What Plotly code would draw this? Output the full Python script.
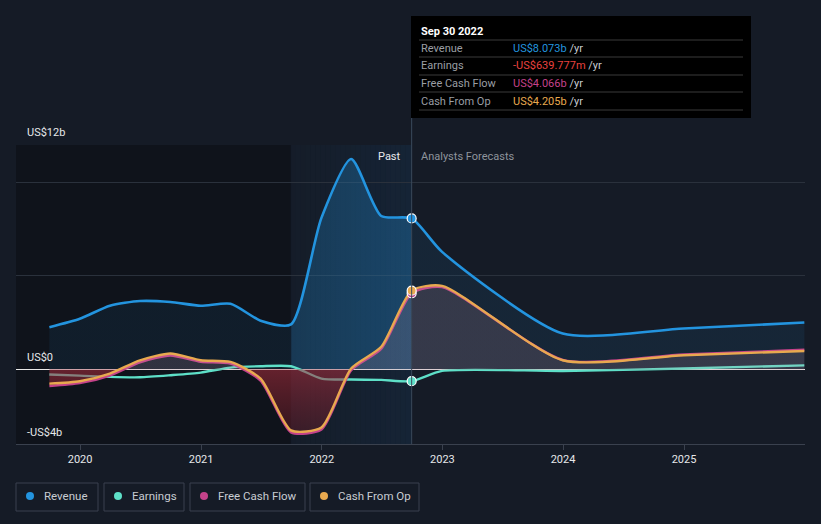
import plotly.graph_objects as go
from datetime import date

# ---- data ----
past_dates = ["2019-09-30", "2019-12-31", "2020-03-31", "2020-06-30", "2020-09-30",
              "2020-12-31", "2021-03-31", "2021-06-30", "2021-09-30", "2021-12-31",
              "2022-03-31", "2022-06-30", "2022-09-30"]
fc_dates = ["2022-09-30", "2022-12-31", "2023-12-31", "2024-12-31", "2025-12-31"]

rev_past = [2.25, 2.7, 3.4, 3.65, 3.6, 3.4, 3.5, 2.6, 2.4, 8.1, 11.25, 8.2, 8.073]
rev_fc = [8.073, 6.28, 1.91, 2.18, 2.5]

earn_past = [-0.28, -0.34, -0.41, -0.43, -0.32, -0.18, 0.09, 0.16, 0.16, -0.5, -0.55, -0.57, -0.64]
earn_fc = [-0.64, -0.09, -0.09, 0.04, 0.21]

fcf_past = [-0.89, -0.74, -0.33, 0.38, 0.74, 0.40, 0.31, -0.6, -3.37, -3.22, -0.05, 1.1, 4.066]
fcf_fc = [4.066, 4.40, 0.50, 0.78, 1.04]

cfo_past = [-0.77, -0.64, -0.23, 0.48, 0.84, 0.48, 0.39, -0.5, -3.27, -3.12, 0.04, 1.2, 4.205]
cfo_fc = [4.205, 4.46, 0.48, 0.75, 0.98]

band_start, band_end = "2021-09-30", "2022-09-30"

y_ticks = [0, 5, 10, 12]
x_ticks = ["2020-01-01", "2021-01-01", "2022-01-01", "2023-01-01", "2024-01-01", "2025-01-01"]
x_tick_text = ["2020", "2021", "2022", "2023", "2024", "2025"]

BG = "#151b26"
C_REV = "#2394df"
C_EARN = "#5ee0c8"
C_FCF = "#c4428a"
C_CFO = "#e8a94f"

W, H = 821, 524
L, R, T, B = 16, 805, 145, 444


def px(x):
    return (x - L) / (R - L)


def py(y):
    return (B - y) / (B - T)


def d(s):
    return date.fromisoformat(s)


fig = go.Figure()

dates_all = past_dates + fc_dates[1:]
rev_all = rev_past + rev_fc[1:]
earn_all = earn_past + earn_fc[1:]
fcf_all = fcf_past + fcf_fc[1:]
cfo_all = cfo_past + cfo_fc[1:]

# fraction positions of highlighted band along the data extent (for horizontal gradient)
t0, t1 = d(dates_all[0]), d(dates_all[-1])
span = (t1 - t0).days
f_a = (d(band_start) - t0).days / span
f_b = (d(band_end) - t0).days / span

rev_scale = [[0, "rgba(35,148,223,0.08)"], [f_a, "rgba(35,148,223,0.08)"],
             [f_a + 0.001, "rgba(35,148,223,0.24)"], [f_b - 0.001, "rgba(35,148,223,0.30)"],
             [f_b, "rgba(35,148,223,0.09)"], [1, "rgba(35,148,223,0.09)"]]

sm = 0.65
fig.add_trace(go.Scatter(x=dates_all, y=rev_all, mode="lines", line=dict(color=C_REV, width=2.6, shape="spline", smoothing=sm),
                         fill="tozeroy", fillgradient=dict(type="horizontal", colorscale=rev_scale), hoverinfo="skip"))
fig.add_trace(go.Scatter(x=dates_all, y=earn_all, mode="lines", line=dict(color=C_EARN, width=2.4, shape="spline", smoothing=sm),
                         hoverinfo="skip"))
fig.add_trace(go.Scatter(x=dates_all, y=fcf_all, mode="lines", line=dict(color=C_FCF, width=2.6, shape="spline", smoothing=sm),
                         hoverinfo="skip"))
fig.add_trace(go.Scatter(x=dates_all, y=cfo_all, mode="lines", line=dict(color=C_CFO, width=2.4, shape="spline", smoothing=sm),
                         fill="tozeroy",
                         fillgradient=dict(type="vertical", start=-4, stop=12,
                                           colorscale=[[0, "rgba(120,25,35,0.30)"], [0.249, "rgba(170,45,60,0.55)"],
                                                       [0.251, "rgba(205,150,165,0.17)"], [1, "rgba(205,150,165,0.17)"]]),
                         hoverinfo="skip"))

# markers at last reported point
fig.add_trace(go.Scatter(x=[past_dates[-1]] * 4, y=[rev_past[-1], earn_past[-1], fcf_past[-1], cfo_past[-1]], mode="markers",
                         marker=dict(size=9, color=[C_REV, C_EARN, C_FCF, C_CFO], line=dict(color="white", width=1.2)),
                         hoverinfo="skip"))

shapes = []
# darker past region
shapes.append(dict(type="rect", xref="x", yref="paper", x0="2019-06-21", x1=band_start, y0=0, y1=1,
                   fillcolor="rgba(8,10,16,0.45)", line=dict(width=0), layer="below"))
# subtle gradient highlight band
n = 24
for i in range(n):
    x0 = 290 + (411 - 290) * i / n
    x1 = 290 + (411 - 290) * (i + 1) / n
    a = 0.02 + 0.08 * (i / (n - 1))
    shapes.append(dict(type="rect", xref="paper", yref="paper", x0=px(x0), x1=px(x1), y0=0, y1=1,
                       fillcolor=f"rgba(30,120,195,{a:.3f})", line=dict(width=0), layer="below"))
# vertical divider
shapes.append(dict(type="line", xref="x", yref="paper", x0=band_end, x1=band_end, y0=0, y1=py(118),
                   line=dict(color="#3a4a5c", width=1)))
# tooltip box
shapes.append(dict(type="rect", xref="paper", yref="paper", x0=px(411), x1=px(751), y0=py(118), y1=py(16),
                   fillcolor="#000000", line=dict(width=0)))
for yy in [40, 57, 75, 92, 110]:
    shapes.append(dict(type="line", xref="paper", yref="paper", x0=px(419), x1=px(743), y0=py(yy), y1=py(yy),
                       line=dict(color="#3a3a3a", width=1)))

# legend boxes
legend_items = [("Revenue", C_REV, 16, 98), ("Earnings", C_EARN, 104, 184),
                ("Free Cash Flow", C_FCF, 190, 305), ("Cash From Op", C_CFO, 310, 419)]
annotations = []
for name, col, xa, xb in legend_items:
    shapes.append(dict(type="rect", xref="paper", yref="paper", x0=px(xa), x1=px(xb), y0=py(511), y1=py(483),
                       fillcolor="rgba(0,0,0,0)", line=dict(color="#3a414e", width=1)))
    shapes.append(dict(type="circle", xref="paper", yref="paper", x0=px(xa + 10), x1=px(xa + 18), y0=py(500), y1=py(492),
                       fillcolor=col, line=dict(width=0)))
    annotations.append(dict(x=px(xa + 26), y=py(496), xref="paper", yref="paper", text=name, showarrow=False,
                            xanchor="left", yanchor="middle", font=dict(color="#c8ccd2", size=11.5)))

# y labels
for txt, yy in [("US$12b", 132), ("US$0", 357), ("-US$4b", 432)]:
    annotations.append(dict(x=px(25), y=py(yy), xref="paper", yref="paper", text=txt, showarrow=False,
                            xanchor="left", yanchor="middle", font=dict(color="#e6e8ea", size=11)))

annotations.append(dict(x=px(403), y=py(156), xref="paper", yref="paper", text="Past", showarrow=False,
                        xanchor="right", yanchor="middle", font=dict(color="#e8eaec", size=11)))
annotations.append(dict(x=px(419), y=py(156), xref="paper", yref="paper", text="Analysts Forecasts", showarrow=False,
                        xanchor="left", yanchor="middle", font=dict(color="#8e949c", size=11)))

# tooltip text
annotations.append(dict(x=px(419), y=py(31), xref="paper", yref="paper", text="<b>Sep 30 2022</b>", showarrow=False,
                        xanchor="left", yanchor="middle", font=dict(color="#ffffff", size=11)))
rows = [("Revenue", "US$8.073b", C_REV, 48), ("Earnings", "-US$639.777m", "#e8423f", 66),
        ("Free Cash Flow", "US$4.066b", C_FCF, 84), ("Cash From Op", "US$4.205b", C_CFO, 101)]
for lab, val, col, yy in rows:
    annotations.append(dict(x=px(419), y=py(yy), xref="paper", yref="paper", text=lab, showarrow=False,
                            xanchor="left", yanchor="middle", font=dict(color="#9a9ea4", size=11)))
    annotations.append(dict(x=px(511), y=py(yy), xref="paper", yref="paper",
                            text=f"<span style='color:{col}'>{val}</span> /yr", showarrow=False,
                            xanchor="left", yanchor="middle", font=dict(color="#c8ccd2", size=11)))

fig.update_layout(
    width=W, height=H, paper_bgcolor=BG, plot_bgcolor=BG,
    margin=dict(l=L, r=W - R, t=T, b=H - B),
    showlegend=False,
    font=dict(family="Roboto, sans-serif", color="#e6e8ea", size=11),
    shapes=shapes, annotations=annotations,
    xaxis=dict(range=["2019-06-21", "2026-01-02"], type="date", tickvals=x_ticks, ticktext=x_tick_text,
               showgrid=False, zeroline=False, showline=True, linecolor="#3a414e", linewidth=1,
               ticks="outside", ticklen=5, tickcolor="#3a414e", tickfont=dict(color="#e6e8ea", size=11)),
    yaxis=dict(range=[-4, 12], tickvals=y_ticks, showticklabels=False, showgrid=True, gridcolor="#2a313c",
               gridwidth=1, zeroline=True, zerolinecolor="#e8e8e8", zerolinewidth=1, fixedrange=True),
)

fig.write_html("out.html", config={"displayModeBar": False},
               post_script="document.body.style.margin='0';document.body.style.padding='0';"
                           "document.body.style.overflow='hidden';document.body.style.background='#151b26';")
